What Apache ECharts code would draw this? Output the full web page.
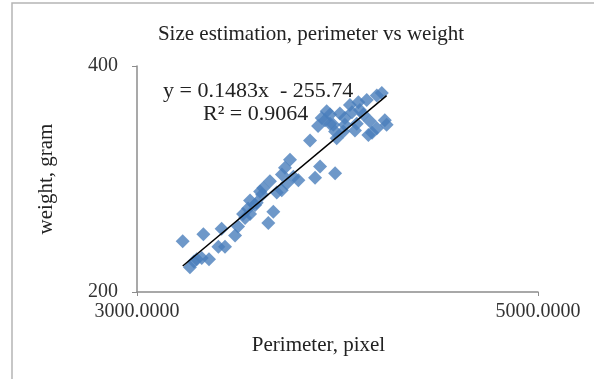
<!DOCTYPE html>
<html>
<head>
<meta charset="utf-8">
<script src="https://cdn.jsdelivr.net/npm/echarts@6/dist/echarts.min.js"></script>
<style>
html,body{margin:0;padding:0;background:#fff;}
#c{width:594px;height:379px;}
</style>
</head>
<body>
<div id="c"></div>
<script>
// Data
var perimeter = [3228,3264,3298,3331,3323,3359,3406,3439,3422,3489,3504,3539,3564,3597,3614,3630,3663,3655,3680,3697,3722,3747,3738,3763,3780,3805,3863,3888,3913,3988,3921,3946,3938,3963,3979,4012,3988,3996,4029,4062,4104,4146,4196,4221,4129,4096,4162,4154,4196,4236,4245,4172,4037,4072,3624,3529,3554,3284,3564,3903,3963,4037,4112,4087,3723,3589];
var weight =    [245, 222, 229, 251, 230, 229, 240, 240, 256, 250, 258, 265.5,269, 279, 289, 292, 298, 261, 271, 288, 290, 296, 310, 317, 302, 299, 334, 301, 311, 305, 354, 360, 352, 349, 348, 358, 342, 336, 342, 365.5,368, 370, 374, 376, 357, 349, 351, 339, 345, 352, 348, 341, 354, 359, 286, 269, 274, 227, 281, 347, 357, 348, 361, 343, 304, 277];
var trendX = [3228, 4245];
var trendY = [222.97, 373.79];
var xTicks = [3000, 5000];
var yTicks = [200, 400];
var titleText = 'Size estimation, perimeter vs weight';
var eqText = 'y = 0.1483x  - 255.74';
var r2Text = 'R\u00b2 = 0.9064';

var pts = perimeter.map(function(x,i){return [x, weight[i]];});
var trend = trendX.map(function(x,i){return [x, trendY[i]];});

var font = 'Liberation Serif, Times New Roman, serif';
var chart = echarts.init(document.getElementById('c'));
chart.setOption({
  animation: false,
  backgroundColor: '#fff',
  title: {
    text: titleText, left: 306, top: 19, textAlign: 'center',
    textStyle: {fontFamily: font, fontSize: 21, fontWeight: 'normal', color: '#222'}
  },
  grid: {left: 137, right: 56, top: 66, bottom: 87},
  xAxis: {
    type: 'value', min: xTicks[0], max: xTicks[1], interval: xTicks[1]-xTicks[0],
    name: 'Perimeter, pixel', nameLocation: 'middle', nameGap: 43,
    nameTextStyle: {fontFamily: font, fontSize: 21, color: '#222', padding: [0, 38, 0, 0]},
    axisLine: {lineStyle: {color: '#8c8c8c', width: 1.5}},
    axisTick: {show: true, length: 4, lineStyle: {color: '#8c8c8c'}},
    splitLine: {show: false},
    axisLabel: {fontFamily: font, fontSize: 20, color: '#333', margin: 10,
      formatter: function(v){return v.toFixed(4);}}
  },
  yAxis: {
    type: 'value', min: yTicks[0], max: yTicks[1], interval: yTicks[1]-yTicks[0],
    name: 'weight, gram', nameLocation: 'middle', nameGap: 80, nameRotate: 90,
    nameTextStyle: {fontFamily: font, fontSize: 21, color: '#222'},
    axisLine: {show: true, lineStyle: {color: '#8c8c8c', width: 1.5}},
    axisTick: {show: true, length: 5, lineStyle: {color: '#8c8c8c'}},
    splitLine: {show: false},
    axisLabel: {fontFamily: font, fontSize: 20, color: '#333', margin: 19}
  },
  series: [
    {
      type: 'scatter', data: pts, symbol: 'diamond', symbolSize: 14,
      itemStyle: {color: '#4a7ebb'}
    },
    {
      type: 'line', data: trend, symbol: 'none', z: 5,
      lineStyle: {color: '#000', width: 1.5}
    }
  ],
  graphic: [
    {type: 'rect', shape: {x: 12, y: 3, width: 640, height: 420}, style: {fill: 'none', stroke: '#b5b5b5', lineWidth: 1.5}, silent: true},
    {type: 'text', z: 10, style: {x: 163, y: 91, text: eqText, textVerticalAlign: 'middle', fontFamily: font, fontSize: 22, fill: '#222'}},
    {type: 'text', z: 10, style: {x: 203, y: 114, text: r2Text, textVerticalAlign: 'middle', fontFamily: font, fontSize: 22, fill: '#222'}}
  ]
});
</script>
</body>
</html>
